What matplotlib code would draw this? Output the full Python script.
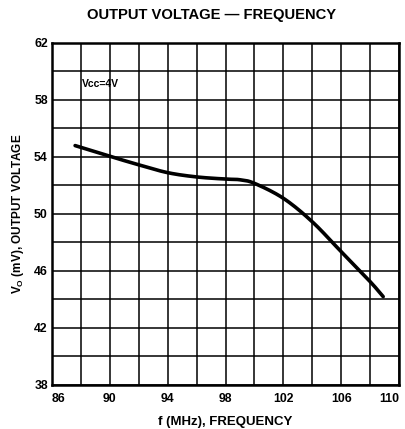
import matplotlib
matplotlib.use("Agg")
import matplotlib.pyplot as plt
import numpy as np

freq = [87.6, 90, 92, 94, 96, 98, 99, 100, 102, 104, 106, 108, 108.9]
vout = [54.8, 54.05, 53.45, 52.9, 52.6, 52.45, 52.4, 52.15, 51.1, 49.45, 47.35, 45.25, 44.2]
x_ticks = [86, 90, 94, 98, 102, 106, 110]
y_ticks = [38, 42, 46, 50, 54, 58, 62]

plt.rcParams['font.family'] = ['Liberation Sans', 'DejaVu Sans']
plt.rcParams['font.weight'] = 'bold'

fig = plt.figure(figsize=(4.06, 4.29), dpi=100)
ax = fig.add_axes([0.128, 0.1026, 0.855, 0.7972])

ax.set_xlim(86, 110)
ax.set_ylim(38, 62)
ax.set_xticks(np.arange(86, 111, 2), minor=True)
ax.set_yticks(np.arange(38, 63, 2), minor=True)
ax.set_xticks(x_ticks)
ax.set_yticks(y_ticks)
xl = ax.set_xticklabels([str(t) for t in x_ticks], fontsize=8.8, fontweight='bold')
ax.set_yticklabels([str(t) for t in y_ticks], fontsize=8.8, fontweight='bold')
xl[0].set_horizontalalignment('left')
xl[-1].set_horizontalalignment('right')
ax.tick_params(axis='y', which='both', length=0, pad=3)
ax.tick_params(axis='x', which='both', length=0, pad=6)
ax.grid(which='both', color='black', linewidth=1.1)
for s in ax.spines.values():
    s.set_linewidth(1.8)

def catmull(px, py, n=20):
    P = np.column_stack([np.asarray(px), np.asarray(py)])
    P = np.vstack([2*P[0]-P[1], P, 2*P[-1]-P[-2]])
    out = []
    for i in range(1, len(P)-2):
        p0, p1, p2, p3 = P[i-1], P[i], P[i+1], P[i+2]
        t = np.linspace(0, 1, n, endpoint=False)[:, None]
        seg = 0.5*((2*p1) + (-p0+p2)*t + (2*p0-5*p1+4*p2-p3)*t**2 + (-p0+3*p1-3*p2+p3)*t**3)
        out.append(seg)
    out.append(P[-2][None, :])
    return np.vstack(out)

curve = catmull(freq, vout)
ax.plot(curve[:, 0], curve[:, 1], color='black', linewidth=2.6, solid_capstyle='round')

ax.text(88.05, 59.1, 'Vcc=4V', fontsize=7.5, fontweight='bold', va='center', ha='left')

ax.set_xlabel('f (MHz), FREQUENCY', fontsize=9.5, fontweight='bold', labelpad=8)
ax.set_ylabel('V$_\\mathregular{O}$ (mV), OUTPUT VOLTAGE', fontsize=8.5, fontweight='bold', labelpad=6)
fig.text(0.52, 0.966, 'OUTPUT VOLTAGE — FREQUENCY', fontsize=10.6, fontweight='bold', ha='center', va='center')

fig.savefig('out.png', dpi=100, facecolor='white')
